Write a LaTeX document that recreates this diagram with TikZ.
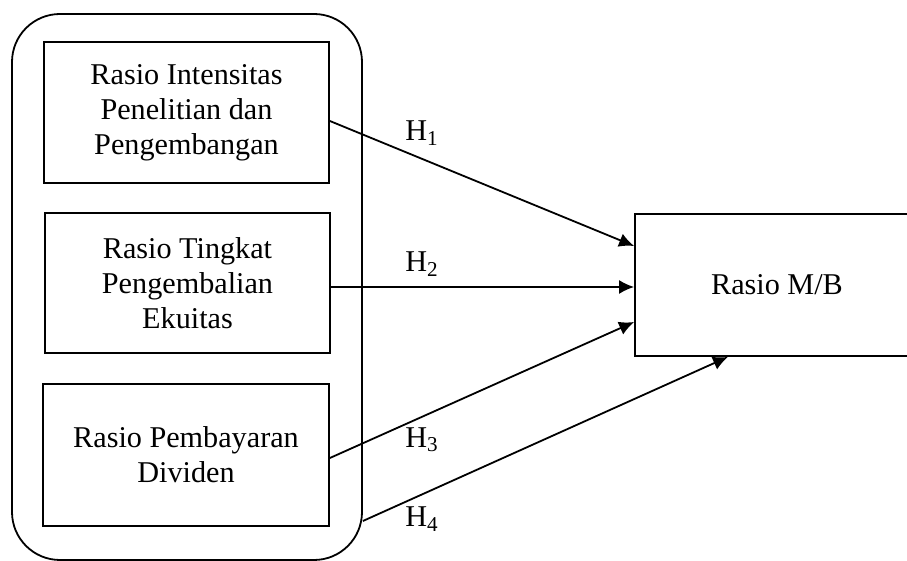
\documentclass[tikz,border=0pt]{standalone}
\usepackage{fontspec}
\setmainfont{Liberation Serif}
\usetikzlibrary{arrows.meta}

\begin{document}
\begin{tikzpicture}[x=0.5pt, y=-0.5pt, > = {Latex[length=7.5pt,width=7pt]}, line width=0.9pt]
    \tikzset{
      var/.style={draw, align=center, inner sep=0pt, font=\fontsize{15.1}{17.6}\selectfont},
      hyp/.style={inner sep=0pt, font=\fontsize{15.1}{17.6}\selectfont},
    }
    \useasboundingbox (0,0) rectangle (907,561);
    \node [draw, rounded corners=24pt, minimum width=175pt, minimum height=273pt] (grp) at (187,287) {};
    \node [var, minimum width=142.5pt, minimum height=70.5pt] (rid) at (186.5,112.5) {Rasio Intensitas\\Penelitian dan\\Pengembangan};
    \node [var, minimum width=142.5pt, minimum height=70pt] (roe) at (187.5,283) {Rasio Tingkat\\Pengembalian\\Ekuitas};
    \node [var, minimum width=143pt, minimum height=71pt] (dpr) at (186,455) {Rasio Pembayaran\\Dividen};
    \node [var, minimum width=142pt, minimum height=71pt] (mb) at (777,285) {Rasio M/B};
    \draw[->] ([yshift=-4.25pt]rid.east) -- ([yshift=19.5pt]mb.west);
    \draw[->] ([yshift=-2pt]roe.east) -- ([yshift=-1pt]mb.west);
    \draw[->] ([yshift=-1.5pt]dpr.east) -- ([yshift=-18.5pt]mb.west);
    \draw[->] ([yshift=-117pt]grp.east) -- ([xshift=-24.5pt]mb.south);
    \node [hyp] (h1) at (422,133) {H\textsubscript{1}};
    \node [hyp] (h2) at (422,264) {H\textsubscript{2}};
    \node [hyp] (h3) at (422,440) {H\textsubscript{3}};
    \node [hyp] (h4) at (422,519) {H\textsubscript{4}};
  \end{tikzpicture}
\end{document}
